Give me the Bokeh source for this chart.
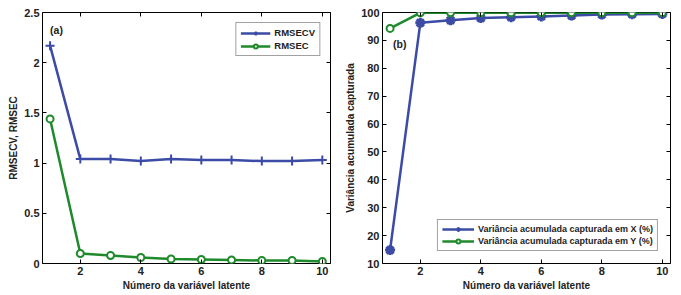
from bokeh.plotting import figure
from bokeh.layouts import row
from bokeh.models import LinearAxis, Legend, LegendItem, Label, FixedTicker
from bokeh.embed import file_html
from bokeh.resources import INLINE

latent = [1, 2, 3, 4, 5, 6, 7, 8, 9, 10]
rmsecv = [2.17, 1.04, 1.04, 1.02, 1.04, 1.03, 1.03, 1.02, 1.02, 1.03]
rmsec = [1.44, 0.10, 0.08, 0.06, 0.045, 0.04, 0.035, 0.03, 0.03, 0.02]
var_x = [14.8, 96.3, 97.2, 98.0, 98.3, 98.6, 98.9, 99.3, 99.4, 99.5]
var_y = [94.3, 99.9, 99.9, 99.9, 99.9, 99.9, 99.9, 99.95, 99.95, 99.95]

BLUE = "#3b4ba6"
GREEN = "#1f8a2c"
FONT = "Liberation Sans"


def style(p, yticks, ylabels, ylabel):
    p.outline_line_color = "black"
    p.outline_line_width = 1
    p.xgrid.visible = False
    p.ygrid.visible = False
    p.background_fill_color = "white"
    p.border_fill_color = "white"
    xt = [2, 4, 6, 8, 10]
    for ax in p.xaxis:
        ax.ticker = FixedTicker(ticks=xt)
    for ax in p.yaxis:
        ax.ticker = FixedTicker(ticks=yticks)
        ax.major_label_overrides = ylabels
    for ax in list(p.xaxis) + list(p.yaxis):
        ax.major_tick_in = 4
        ax.major_tick_out = 0
        ax.minor_tick_line_color = None
        ax.axis_line_color = None
        ax.major_label_text_font = FONT
        ax.major_label_text_font_style = "bold"
        ax.major_label_text_font_size = "11px"
        ax.major_label_text_color = "#222222"
        ax.axis_label_text_font = FONT
        ax.axis_label_text_font_style = "bold"
        ax.axis_label_text_font_size = "10px"
        ax.axis_label_text_color = "#222222"
        ax.major_label_standoff = 3
        ax.axis_label_standoff = 2
    p.xaxis[0].axis_label = "Número da variável latente"
    p.yaxis[0].axis_label = ylabel
    # box ticks (top/right) without labels
    top = LinearAxis(ticker=FixedTicker(ticks=xt), major_label_text_color=None,
                     major_tick_in=4, major_tick_out=0, minor_tick_line_color=None,
                     axis_line_color=None, major_label_standoff=0)
    right = LinearAxis(ticker=FixedTicker(ticks=yticks), major_label_text_color=None,
                       major_tick_in=4, major_tick_out=0, minor_tick_line_color=None,
                       axis_line_color=None, major_label_standoff=0)
    p.add_layout(top, "above")
    p.add_layout(right, "right")


# ---- panel (a)
p1 = figure(width=340, height=295, x_range=(0.75, 10.27), y_range=(0, 2.5),
            output_backend="svg", toolbar_location=None,
            min_border_left=42, min_border_right=10, min_border_top=12, min_border_bottom=32)
style(p1, [0, 0.5, 1, 1.5, 2, 2.5],
      {0: "0", 0.5: "0.5", 1: "1", 1.5: "1.5", 2: "2", 2.5: "2.5"},
      "RMSECV, RMSEC")
l1 = p1.line(latent, rmsecv, line_color=BLUE, line_width=2.5)
m1 = p1.scatter(latent, rmsecv, marker="cross", size=9, line_color=BLUE, line_width=2)
l2 = p1.line(latent, rmsec, line_color=GREEN, line_width=2.5)
m2 = p1.scatter(latent, rmsec, marker="circle", size=7, line_color=GREEN, line_width=2,
                fill_color="white")
leg1 = Legend(items=[LegendItem(label="RMSECV", renderers=[l1, m1]),
                     LegendItem(label="RMSEC", renderers=[l2, m2])],
              location="top_right", border_line_color="#444444", border_line_width=1,
              label_text_font=FONT, label_text_font_style="bold", label_text_font_size="9.5px",
              label_text_color="#222222", glyph_width=30, glyph_height=10,
              label_height=10, spacing=2, padding=4, margin=10, label_standoff=4)
p1.add_layout(leg1)
p1.add_layout(Label(x=1.0, y=2.27, text="(a)", text_font=FONT, text_font_style="bold",
                    text_font_size="10.5px", text_color="#222222"))

# ---- panel (b)
p2 = figure(width=341, height=295, x_range=(0.75, 10.27), y_range=(10, 100),
            output_backend="svg", toolbar_location=None,
            min_border_left=42, min_border_right=11, min_border_top=12, min_border_bottom=32)
style(p2, [10, 20, 30, 40, 50, 60, 70, 80, 90, 100],
      {v: str(v) for v in [10, 20, 30, 40, 50, 60, 70, 80, 90, 100]},
      "Variância acumulada capturada")
l3 = p2.line(latent, var_x, line_color=BLUE, line_width=2.5)
m3 = p2.scatter(latent, var_x, marker="asterisk", size=10, line_color=BLUE, line_width=3)
l4 = p2.line(latent, var_y, line_color=GREEN, line_width=2.5)
m4 = p2.scatter(latent, var_y, marker="circle", size=7, line_color=GREEN, line_width=2,
                fill_color="white")
leg2 = Legend(items=[LegendItem(label="Variância acumulada capturada em X (%)", renderers=[l3, m3]),
                     LegendItem(label="Variância acumulada capturada em Y (%)", renderers=[l4, m4])],
              location="bottom_right", border_line_color="#444444", border_line_width=1,
              label_text_font=FONT, label_text_font_style="bold", label_text_font_size="9px",
              label_text_color="#222222", glyph_width=32, glyph_height=10,
              label_height=10, spacing=2, padding=4, margin=12, label_standoff=4)
p2.add_layout(leg2)
p2.add_layout(Label(x=1.1, y=86.5, text="(b)", text_font=FONT, text_font_style="bold",
                    text_font_size="10.5px", text_color="#222222"))

layout = row(p1, p2)
open("out.html", "w").write(file_html(layout, INLINE))
